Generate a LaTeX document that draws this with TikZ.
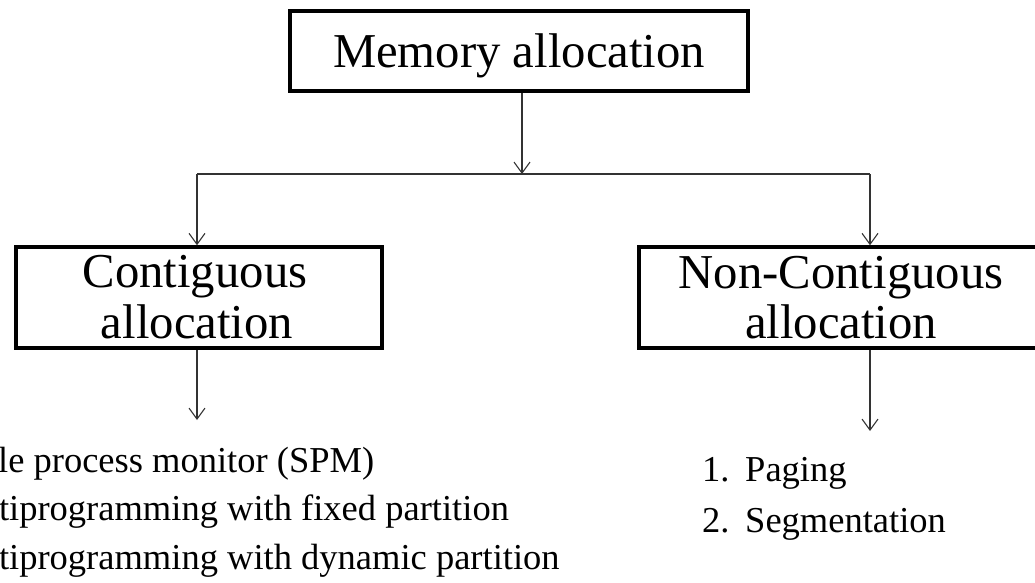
\documentclass[tikz,border=0pt]{standalone}
\usepackage{fontspec}
\setmainfont{Liberation Serif}
\usetikzlibrary{arrows.meta}

% lettering used in the three boxes and in the lists
\newcommand\headtext{\fontsize{48.7}{56}\selectfont}
\newcommand\itemtext{\fontsize{36.5}{44}\selectfont}

\begin{document}
\begin{tikzpicture}[x=1pt,y=1pt,
  frame/.style={draw=black, line width=3.5pt, inner sep=0pt, fill=none},
  label/.style={anchor=base, inner sep=0pt, font=\headtext},
  entry/.style={anchor=base west, inner sep=0pt, font=\itemtext},
  conn/.style={draw=black!80, line width=1.1pt},
  tip/.style={-{Straight Barb[length=11pt,width=16pt,line width=1.1pt]}}
]
\path[use as bounding box] (0,0) rectangle (1035,-582);
\clip (0,0) rectangle (1035,-582);

% boxes
\node[frame, minimum width=458pt, minimum height=80pt] (memb) at (519,-51) {};
\node[frame, minimum width=366pt, minimum height=101pt] (contb) at (199,-297.5) {};
\node[frame, minimum width=411pt, minimum height=101pt] (ncontb) at (844.5,-297.5) {};

% box captions
\node[label] (memt) at (519,-67) {Memory allocation};
\node[label] (contt1) at (195,-287) {Contiguous};
\node[label] (contt2) at (197,-338) {allocation};
\node[label] (ncontt1) at (841,-288) {Non-Contiguous};
\node[label] (ncontt2) at (841,-338) {allocation};

% branching connectors
\coordinate (hub) at (522,-174);
\coordinate (hubL) at (197,-174);
\coordinate (hubR) at (870,-174);
\coordinate (contend) at (197,-420);
\coordinate (ncontend) at (870,-431);

\draw[conn, tip] (memb.south -| hub) -- (hub);
\draw[conn] (hubL) -- (hubR);
\draw[conn, tip] (hubL) -- (hubL |- contb.north);
\draw[conn, tip] (hubR) -- (hubR |- ncontb.north);
\draw[conn, tip] (contb.south -| hubL) -- (contend);
\draw[conn, tip] (ncontb.south -| hubR) -- (ncontend);

% contiguous techniques
\node[entry] (c1) at (-112,-472) {\makebox[43pt][l]{1.}Single process monitor (SPM)};
\node[entry] (c2) at (-105,-520) {\makebox[43pt][l]{2.}Multiprogramming with fixed partition};
\node[entry] (c3) at (-105,-569) {\makebox[43pt][l]{3.}Multiprogramming with dynamic partition};

% non-contiguous techniques
\node[entry] (n1) at (702,-481) {\makebox[43pt][l]{1.}Paging};
\node[entry] (n2) at (702,-532) {\makebox[43pt][l]{2.}Segmentation};
\end{tikzpicture}
\end{document}
